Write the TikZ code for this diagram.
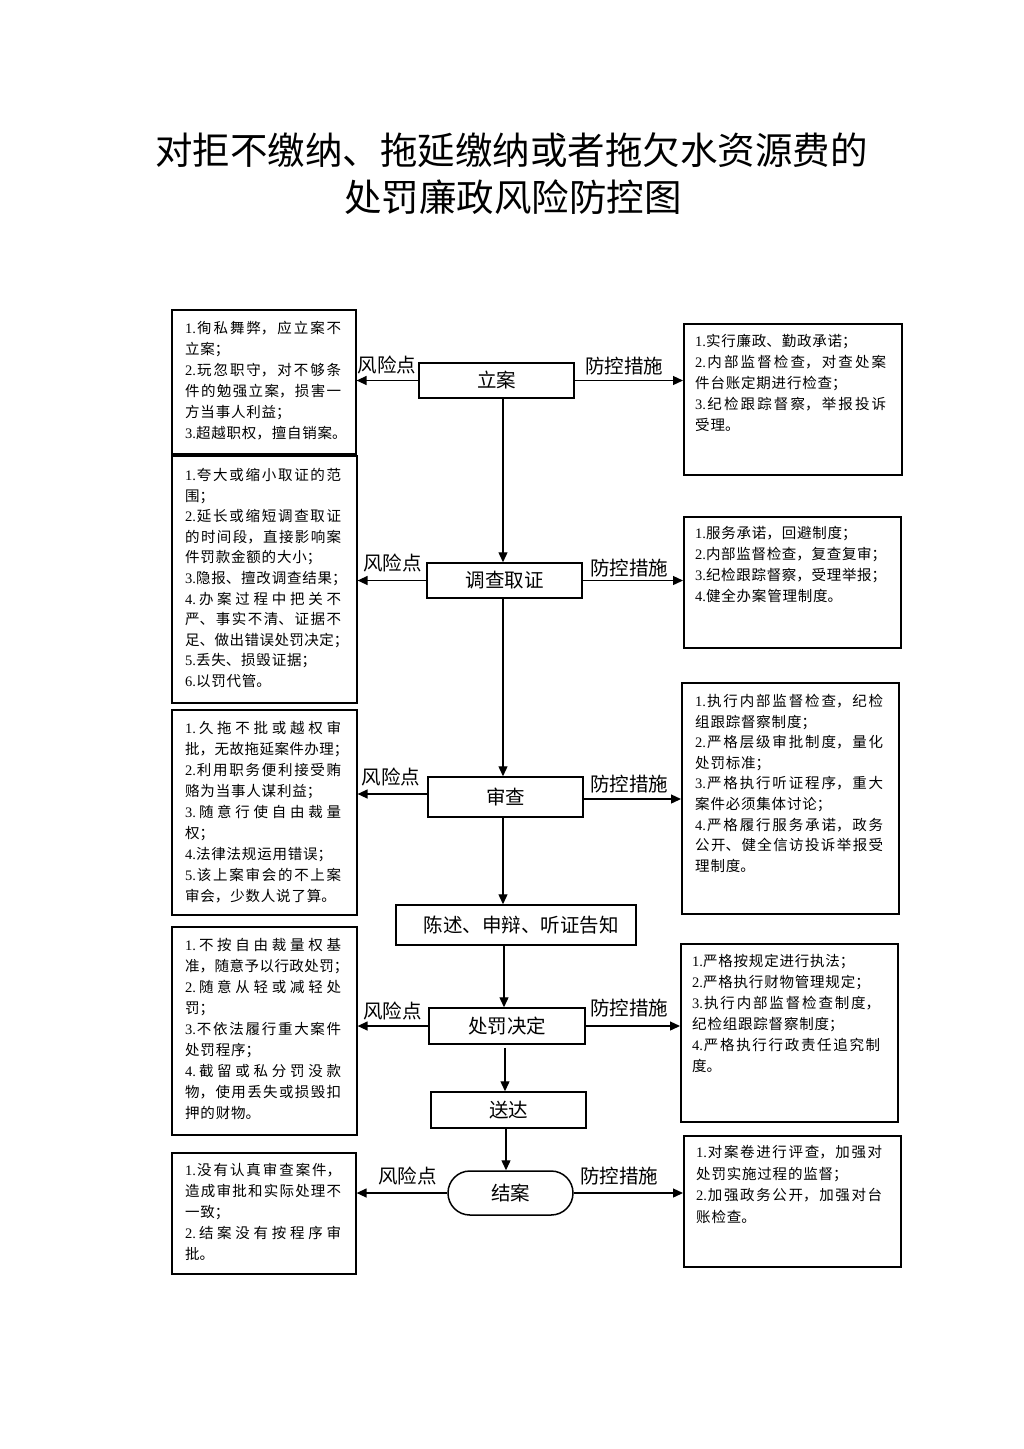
\documentclass[tikz,border=0pt]{standalone}
\usepackage{fontspec}
\setmainfont{Noto Sans CJK SC}
\newfontfamily\lat{Liberation Serif}
\usetikzlibrary{arrows.meta}
\newcommand\cjkbreak{\XeTeXlinebreaklocale "zh"\XeTeXlinebreakskip=0.8pt plus 1fil minus 1.5pt\relax}
\newcommand\btfont[1]{\fontsize{14.5}{#1}\selectfont\cjkbreak}
\newcommand\jl{\break}
\newcommand\nl{\nobreak\hskip0pt plus1filll\break}
\newcommand\fin{\nobreak\hskip0pt plus1filll\null}
\newcommand\nn[1]{{\lat #1.}\nobreak\hskip0pt plus1fil\relax}
\newcommand\pe[1]{\makebox[0.5em][l]{#1}}
\newcommand\bstart{\parfillskip=0pt plus1filll\relax\rightskip=0pt\relax\leftskip=0pt\relax\parindent=0pt\relax}
\tikzset{
  box/.style={draw=black, line width=1.6pt, inner sep=0pt, anchor=north west},
  bt/.style={anchor=north west, inner sep=0pt, text width=#1, font=\btfont{21}},
  cbox/.style={draw=black, line width=1.5pt, inner sep=0pt, font=\fontsize{19.5}{22}\selectfont},
  lab/.style={inner sep=0pt, font=\fontsize{19.5}{22}\selectfont},
  arr/.style={line width=1.3pt, draw=black, -{Triangle[length=10pt,width=9pt]}},
  ttl/.style={inner sep=0pt, font=\fontsize{37.5}{40}\selectfont}
}
\begin{document}
\begin{tikzpicture}[x=1pt,y=-1pt]
\fill[white] (0,0) rectangle (1024,1449);
\useasboundingbox (0,0) rectangle (1024,1449);

% title
\node[ttl] (t1) at (511.5,150) {对拒不缴纳、拖延缴纳或者拖欠水资源费的};
\node[ttl] (t2) at (513,197) {处罚廉政风险防控图};

% centre flow
\node[cbox, minimum width=155pt, minimum height=35pt] (lian) at (496.5,380.5) {立案};
\node[cbox, minimum width=155pt, minimum height=35pt] (diaocha) at (504.5,580.5) {调查取证};
\node[cbox, minimum width=155pt, minimum height=40pt] (shencha) at (505.5,797) {审查};
\node[cbox, minimum width=240pt, minimum height=40pt] (chenshu) at (516,925) {\hspace{10pt}陈述、申辩、听证告知};
\node[cbox, minimum width=156pt, minimum height=36pt] (chufa) at (507,1026) {处罚决定};
\node[cbox, minimum width=155pt, minimum height=36pt] (songda) at (508.5,1110) {送达};
\node[cbox, minimum width=125pt, minimum height=44pt, rounded corners=21.9pt] (jiean) at (510.5,1193) {结案};

% left boxes
\node[box, minimum width=184pt, minimum height=144pt] (L1) at (171,309) {};
\node[box, minimum width=185pt, minimum height=247pt] (L2) at (171,455) {};
\node[box, minimum width=185pt, minimum height=205pt] (L3) at (171,709) {};
\node[box, minimum width=185pt, minimum height=208pt] (L4) at (171,926) {};
\node[box, minimum width=184pt, minimum height=121pt] (L5) at (171,1152) {};
% right boxes
\node[box, minimum width=218pt, minimum height=151pt] (R1) at (683,323) {};
\node[box, minimum width=217pt, minimum height=131pt] (R2) at (683,516) {};
\node[box, minimum width=217pt, minimum height=231pt] (R3) at (681,682) {};
\node[box, minimum width=217pt, minimum height=178pt] (R4) at (680,943) {};
\node[box, minimum width=217pt, minimum height=131pt] (R5) at (683,1135) {};

% left texts
\node[bt=156pt] (L1t) at (185,321) {\bstart\nn{1}徇私舞弊，应立案不\jl
立案；\nl
\nn{2}玩忽职守，对不够条\jl
件的勉强立案，损害一\jl
方当事人利益；\nl
\nn{3}超越职权，擅自销案\pe{。}\fin};

\node[bt=156pt, font=\btfont{20.6}] (L2t) at (185,468) {\bstart\nn{1}夸大或缩小取证的范\jl
围；\nl
\nn{2}延长或缩短调查取证\jl
的时间段，直接影响案\jl
件罚款金额的大小；\nl
\nn{3}隐报、擅改调查结果\pe{；}\nl
\nn{4}办案过程中把关不\jl
严、事实不清、证据不\jl
足、做出错误处罚决定\pe{；}\nl
\nn{5}丢失、损毁证据；\nl
\nn{6}以罚代管。\fin};

\node[bt=156pt] (L3t) at (185,721) {\bstart\nn{1}久拖不批或越权审\jl
批，无故拖延案件办理\pe{；}\nl
\nn{2}利用职务便利接受贿\jl
赂为当事人谋利益；\nl
\nn{3}随意行使自由裁量\jl
权；\nl
\nn{4}法律法规运用错误；\nl
\nn{5}该上案审会的不上案\jl
审会，少数人说了算。\fin};

\node[bt=156pt] (L4t) at (185,938) {\bstart\nn{1}不按自由裁量权基\jl
准，随意予以行政处罚\pe{；}\nl
\nn{2}随意从轻或减轻处\jl
罚；\nl
\nn{3}不依法履行重大案件\jl
处罚程序；\nl
\nn{4}截留或私分罚没款\jl
物，使用丢失或损毁扣\jl
押的财物。\fin};

\node[bt=156pt] (L5t) at (185,1163) {\bstart\nn{1}没有认真审查案件，\jl
造成审批和实际处理不\jl
一致；\nl
\nn{2}结案没有按程序审\jl
批。\fin};

% right texts
\node[bt=191pt] (R1t) at (695,334) {\bstart\nn{1}实行廉政、勤政承诺；\nl
\nn{2}内部监督检查，对查处案\jl
件台账定期进行检查；\nl
\nn{3}纪检跟踪督察，举报投诉\jl
受理。\fin};

\node[bt=191pt] (R2t) at (695,526) {\bstart\nn{1}服务承诺，回避制度；\nl
\nn{2}内部监督检查，复查复审；\nl
\nn{3}纪检跟踪督察，受理举报；\nl
\nn{4}健全办案管理制度。\fin};

\node[bt=188pt, font=\btfont{20.6}] (R3t) at (695,694) {\bstart\nn{1}执行内部监督检查，纪检\jl
组跟踪督察制度；\nl
\nn{2}严格层级审批制度，量化\jl
处罚标准；\nl
\nn{3}严格执行听证程序，重大\jl
案件必须集体讨论；\nl
\nn{4}严格履行服务承诺，政务\jl
公开、健全信访投诉举报受\jl
理制度。\fin};

\node[bt=188pt] (R4t) at (692,954) {\bstart\nn{1}严格按规定进行执法；\nl
\nn{2}严格执行财物管理规定；\nl
\nn{3}执行内部监督检查制度，\jl
纪检组跟踪督察制度；\nl
\nn{4}严格执行行政责任追究制\jl
度。\fin};

\node[bt=186pt, font=\btfont{21.6}] (R5t) at (696,1145) {\bstart\nn{1}对案卷进行评查，加强对\jl
处罚实施过程的监督；\nl
\nn{2}加强政务公开，加强对台\jl
账检查。\fin};

% vertical flow arrows
\coordinate (x1) at (503,0);
\coordinate (x2) at (503,0);
\coordinate (x3) at (503,0);
\coordinate (x4) at (504,0);
\coordinate (x5) at (505,0);
\coordinate (x6) at (506,0);
\draw[arr] (x1 |- lian.south) -- (x1 |- diaocha.north);
\draw[arr] (x2 |- diaocha.south) -- (x2 |- shencha.north);
\draw[arr] (x3 |- shencha.south) -- (x3 |- chenshu.north);
\draw[arr] (x4 |- chenshu.south) -- (x4 |- chufa.north);
\draw[arr] ([yshift=-3pt]x5 |- chufa.south) -- (x5 |- songda.north);
\draw[arr] (x6 |- songda.south) -- (x6 |- jiean.north);

% horizontal arrows
\draw[arr] (lian.west) -- (lian.west -| L1.east);
\draw[arr] (lian.east) -- (lian.east -| R1.west);
\draw[arr] (diaocha.west) -- (diaocha.west -| L2.east);
\draw[arr] (diaocha.east) -- (diaocha.east -| R2.west);
\coordinate (s3l) at ([yshift=3pt]shencha.west);
\coordinate (s3r) at ([yshift=-2pt]shencha.east);
\draw[arr] (s3l) -- (s3l -| L3.east);
\draw[arr] (s3r) -- (s3r -| R3.west);
\draw[arr] (chufa.west) -- (chufa.west -| L4.east);
\draw[arr] (chufa.east) -- (chufa.east -| R4.west);
\draw[arr] (jiean.west) -- (jiean.west -| L5.east);
\draw[arr] (jiean.east) -- (jiean.east -| R5.west);

% labels
\node[lab] (r1) at (387,365) {风险点};
\node[lab] (f1) at (624,366) {防控措施};
\node[lab] (r2) at (392.5,563) {风险点};
\node[lab] (f2) at (629,568) {防控措施};
\node[lab] (r3) at (391,777) {风险点};
\node[lab] (f3) at (629,784) {防控措施};
\node[lab] (r4) at (392.5,1011) {风险点};
\node[lab] (f4) at (629,1008) {防控措施};
\node[lab] (r5) at (407.5,1176) {风险点};
\node[lab] (f5) at (619,1176) {防控措施};
\end{tikzpicture}
\end{document}
